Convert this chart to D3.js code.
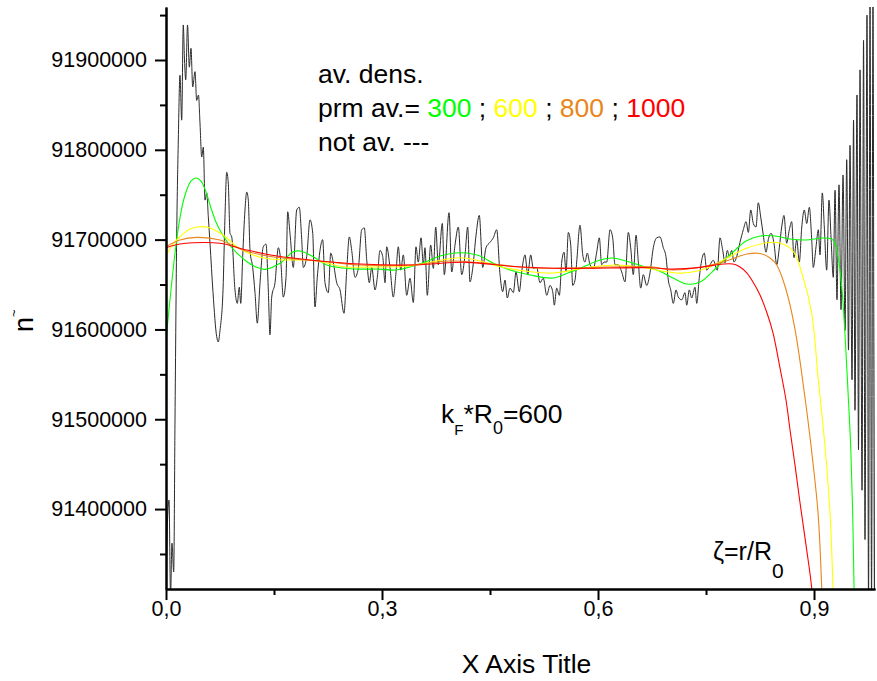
<!DOCTYPE html>
<html>
<head>
<meta charset="utf-8">
<script src="https://cdn.jsdelivr.net/npm/d3@7"></script>
<style>
body{margin:0;background:#fff;}
svg text{font-family:"Liberation Sans",Arial,sans-serif;fill:#000;}
.axis path,.axis line{stroke:#000;stroke-width:2;}
</style>
</head>
<body>
<div class="content"></div>
<script>
// ζ = r/R0 , ñ values
var notAveraged=[
[0,91299000],[0.0021,91388000],[0.0042,91410000],[0.0063,91304000],[0.0083,91362000],[0.0107,91330000],[0.0125,91499000],[0.0149,91707000],[0.0171,91811000],[0.0194,91883000],
[0.0218,91833000],[0.024,91939000],[0.0257,91900000],[0.0274,91878000],[0.0299,91939000],[0.0324,91892000],[0.0347,91913000],[0.0371,91870000],[0.0403,91887000],[0.0426,91855000],
[0.0451,91861000],[0.0472,91830000],[0.0496,91792000],[0.0518,91803000],[0.0542,91744000],[0.0565,91752000],[0.0588,91725000],[0.0611,91696000],[0.0653,91641000],[0.0704,91592000],
[0.0726,91586000],[0.075,91599000],[0.0792,91644000],[0.0819,91725000],[0.0843,91775000],[0.0865,91763000],[0.0889,91707000],[0.0913,91703000],[0.0958,91644000],[0.099,91629000],
[0.1018,91647000],[0.1038,91629000],[0.1065,91681000],[0.1097,91733000],[0.1121,91753000],[0.1143,91744000],[0.1167,91688000],[0.1204,91669000],[0.1236,91641000],[0.1268,91607000],
[0.1306,91652000],[0.1351,91692000],[0.1389,91695000],[0.1421,91644000],[0.1444,91594000],[0.1468,91636000],[0.1514,91652000],[0.156,91691000],[0.1593,91677000],[0.1629,91636000],
[0.1667,91658000],[0.169,91731000],[0.1722,91707000],[0.1768,91669000],[0.1815,91733000],[0.1851,91736000],[0.1885,91700000],[0.1907,91669000],[0.1954,91681000],[0.2,91722000],
[0.2038,91707000],[0.2069,91625000],[0.2101,91658000],[0.2139,91688000],[0.2176,91700000],[0.2208,91652000],[0.2254,91641000],[0.2288,91685000],[0.2324,91674000],[0.2371,91652000],
[0.2417,91644000],[0.2472,91618000],[0.251,91666000],[0.2546,91703000],[0.2579,91688000],[0.2625,91658000],[0.2671,91668000],[0.2718,91711000],[0.2754,91713000],[0.2788,91677000],
[0.2824,91652000],[0.2857,91669000],[0.2903,91644000],[0.2935,91658000],[0.2972,91688000],[0.301,91681000],[0.3042,91652000],[0.3065,91692000],[0.3111,91669000],[0.3157,91636000],
[0.3194,91663000],[0.3226,91692000],[0.326,91666000],[0.3296,91683000],[0.3343,91638000],[0.3389,91657000],[0.3435,91630000],[0.3472,91692000],[0.3504,91675000],[0.3542,91702000],
[0.3574,91672000],[0.3597,91691000],[0.3629,91638000],[0.3676,91694000],[0.3713,91668000],[0.3746,91714000],[0.3782,91672000],[0.3838,91718000],[0.3865,91661000],[0.3931,91730000],
[0.3968,91664000],[0.4014,91694000],[0.406,91714000],[0.4107,91661000],[0.4153,91683000],[0.419,91714000],[0.4222,91653000],[0.426,91668000],[0.4306,91705000],[0.4351,91727000],
[0.4399,91669000],[0.4444,91691000],[0.45,91697000],[0.4546,91702000],[0.4593,91711000],[0.4639,91661000],[0.4676,91642000],[0.4708,91655000],[0.474,91635000],[0.4778,91646000],
[0.4824,91641000],[0.4861,91664000],[0.4907,91642000],[0.494,91664000],[0.4986,91683000],[0.5024,91661000],[0.5065,91683000],[0.5101,91668000],[0.5149,91669000],[0.5194,91652000],
[0.524,91657000],[0.5288,91638000],[0.5333,91649000],[0.5371,91642000],[0.5393,91627000],[0.5426,91646000],[0.5463,91638000],[0.5496,91675000],[0.5528,91686000],[0.5556,91664000],
[0.5588,91708000],[0.5621,91694000],[0.5649,91649000],[0.5681,91655000],[0.5704,91675000],[0.575,91716000],[0.5788,91683000],[0.5819,91675000],[0.5851,91685000],[0.5889,91672000],
[0.5935,91668000],[0.5982,91686000],[0.6018,91702000],[0.6051,91672000],[0.6083,91675000],[0.6121,91675000],[0.6167,91711000],[0.6204,91702000],[0.6236,91672000],[0.6282,91672000],
[0.6329,91664000],[0.6375,91653000],[0.6421,91708000],[0.6454,91691000],[0.649,91661000],[0.6528,91705000],[0.656,91675000],[0.6593,91646000],[0.6629,91661000],[0.6676,91649000],
[0.6722,91663000],[0.6768,91691000],[0.6815,91702000],[0.6861,91703000],[0.6907,91691000],[0.6944,91681000],[0.6976,91655000],[0.701,91644000],[0.7046,91629000],[0.7083,91644000],
[0.7115,91636000],[0.7163,91633000],[0.7208,91641000],[0.7232,91627000],[0.7268,91644000],[0.7301,91635000],[0.7347,91647000],[0.7371,91629000],[0.7407,91658000],[0.744,91677000],
[0.7476,91685000],[0.751,91666000],[0.7556,91672000],[0.7601,91677000],[0.7657,91666000],[0.7694,91702000],[0.7732,91688000],[0.7764,91674000],[0.7796,91688000],[0.7824,91681000],
[0.7857,91688000],[0.7889,91675000],[0.7926,91681000],[0.7972,91697000],[0.8018,91711000],[0.8056,91720000],[0.8088,91708000],[0.8121,91733000],[0.8157,91718000],[0.8194,91714000],
[0.8226,91741000],[0.826,91725000],[0.8296,91705000],[0.8333,91686000],[0.8365,91700000],[0.8403,91707000],[0.8444,91696000],[0.8482,91672000],[0.8518,91691000],[0.8551,91714000],
[0.8583,91727000],[0.862,91696000],[0.8657,91711000],[0.869,91720000],[0.8722,91680000],[0.876,91700000],[0.8796,91675000],[0.8829,91713000],[0.8865,91733000],[0.8899,91718000],
[0.8935,91736000],[0.8968,91700000],[0.899,91669000],[0.9028,91692000],[0.906,91711000],[0.9083,91683000],[0.9115,91752000],[0.9143,91714000],[0.9176,91666000],[0.9208,91744000],
[0.9236,91703000],[0.9268,91658000],[0.9292,91755000],[0.9319,91633000],[0.9347,91761000],[0.9375,91622000],[0.9403,91772000],[0.9431,91599000],[0.9454,91789000],[0.9479,91577000],
[0.95,91805000],[0.9528,91544000],[0.9549,91833000],[0.9569,91510000],[0.9597,91861000],[0.9618,91466000],[0.9639,91889000],[0.9667,91421000],[0.9688,91922000],[0.9708,91366000],
[0.9736,91950000],[0.9757,91299000],[0.9778,91967000],[0.9799,91299000],[0.9819,91967000],[0.984,91299000],[0.9861,91967000]
];
var avg300=[
[0,91588200],[0.0069,91643900],[0.0139,91694000],[0.0208,91730700],[0.0278,91753000],[0.0347,91765200],[0.0417,91768600],[0.0486,91765200],[0.0556,91753000],[0.0625,91735200],
[0.0694,91719600],[0.0764,91708400],[0.0861,91696200],[0.0972,91686200],[0.1111,91676200],[0.125,91669500],[0.1375,91666900],[0.1583,91673600],[0.1768,91686500],[0.1861,91687300],
[0.2046,91680900],[0.2232,91671700],[0.2458,91668400],[0.2694,91667200],[0.2972,91667200],[0.318,91666100],[0.3389,91669500],[0.3597,91675000],[0.3806,91681700],[0.4014,91685100],
[0.418,91685100],[0.4361,91681700],[0.4569,91672800],[0.4778,91666100],[0.5056,91660600],[0.5375,91657200],[0.5583,91662800],[0.5792,91669500],[0.6028,91677300],[0.6194,91679500],
[0.6389,91676200],[0.6611,91670600],[0.6819,91666100],[0.7042,91657200],[0.7236,91650500],[0.7417,91652800],[0.7583,91663900],[0.7722,91675000],[0.7875,91686200],[0.8056,91698400],
[0.825,91704000],[0.8458,91704000],[0.8667,91700700],[0.8889,91699600],[0.9125,91701800],[0.9264,91699600],[0.9333,91681700],[0.9389,91643900],[0.944,91580400],[0.9476,91524700],
[0.951,91469000],[0.9537,91395500],[0.9556,91312000],[0.9575,91240000]
];
var avg600=[
[0,91681700],[0.0097,91695100],[0.0194,91703200],[0.0333,91711800],[0.0472,91714400],[0.0611,91712900],[0.075,91707300],[0.0861,91700700],[0.0986,91692100],[0.1208,91682800],
[0.1444,91678400],[0.1681,91677300],[0.2,91677300],[0.2236,91673900],[0.2458,91669800],[0.2931,91669500],[0.3389,91670600],[0.3708,91675400],[0.4083,91679800],[0.4403,91675400],
[0.4639,91669800],[0.5097,91663900],[0.5375,91662800],[0.5653,91666100],[0.5931,91669800],[0.6264,91671700],[0.6583,91669500],[0.6958,91664200],[0.7181,91662800],[0.7514,91668400],
[0.7792,91679500],[0.8069,91690600],[0.8347,91696500],[0.8528,91696200],[0.8708,91687300],[0.8847,91658300],[0.8968,91618300],[0.906,91543600],[0.9153,91469400],[0.9222,91395500],
[0.9264,91312000],[0.9285,91240000]
];
var avg800=[
[0,91692100],[0.0194,91699600],[0.0426,91702500],[0.075,91699600],[0.1069,91688400],[0.1403,91681700],[0.1764,91678400],[0.2236,91675400],[0.2694,91671700],[0.3389,91671700],
[0.3944,91676200],[0.4403,91673900],[0.5097,91668400],[0.5792,91668700],[0.6722,91669800],[0.7042,91666100],[0.7514,91670600],[0.7792,91676500],[0.8069,91684000],[0.825,91684500],
[0.8389,91679500],[0.8482,91671700],[0.8569,91655000],[0.8667,91627200],[0.875,91593700],[0.8819,91557000],[0.8903,91506900],[0.8986,91451200],[0.9056,91395500],[0.9107,91312000],
[0.913,91240000]
];
var avg1000=[
[0,91691000],[0.0194,91695100],[0.0375,91696500],[0.075,91695900],[0.1125,91688400],[0.1542,91681700],[0.2,91677300],[0.2694,91672800],[0.3389,91671700],[0.418,91674700],
[0.4875,91669800],[0.5569,91668000],[0.6722,91668700],[0.7042,91667200],[0.7417,91669100],[0.7736,91672800],[0.7875,91672800],[0.7972,91669500],[0.8069,91662800],[0.8153,91652800],
[0.825,91638300],[0.8347,91618300],[0.8431,91596000],[0.8528,91557000],[0.8611,91521400],[0.8667,91488000],[0.8736,91449000],[0.8806,91406700],[0.8889,91359900],[0.8968,91312000],
[0.9,91270000]
];
var yMajor=[91400000,91500000,91600000,91700000,91800000,91900000];
var yMinor=[91350000,91450000,91550000,91650000,91750000,91850000,91950000];
var xMajor=[0,0.3,0.6,0.9];
var xMinor=[0.15,0.45,0.75];
var avgLabels=["300","600","800","1000"];
var avgColors=["#00ff00","#ffff00","#e8861a","#ff0000"];

var margin={left:166,top:7,right:2,bottom:92};
var width=877-margin.left-margin.right;
var height=681-margin.top-margin.bottom;

var svg=d3.select(".content")
		.append("svg")
		.attr("width",877)
		.attr("height",681);
var g=svg.append("g")
		.attr("transform","translate("+margin.left+","+margin.top+")");

var x=d3.scaleLinear().domain([0,0.9847]).range([0,width]);
var y=d3.scaleLinear().domain([91311000,91959000]).range([height,0]);

svg.append("clipPath").attr("id","plotClip")
	.append("rect").attr("x",0).attr("y",0).attr("width",width).attr("height",height);

var plot=g.append("g").attr("clip-path","url(#plotClip)");
var rough=d3.line().x(function(d){return x(d[0]);}).y(function(d){return y(d[1]);}).curve(d3.curveMonotoneX);
var smooth=d3.line().x(function(d){return x(d[0]);}).y(function(d){return y(d[1]);}).curve(d3.curveCatmullRom.alpha(0.5));

plot.append("path").datum(notAveraged)
	.attr("d",rough).attr("fill","none").attr("stroke","#2b2b2b").attr("stroke-width",1);
var series=[avg300,avg600,avg800,avg1000];
for(var i=0;i<series.length;i++){
	plot.append("path").datum(series[i])
		.attr("d",smooth).attr("fill","none").attr("stroke",avgColors[i]).attr("stroke-width",1.1);
}

//axes
var comma=function(d){return d3.format(".1f")(d).replace(".",",");};
g.append("g").attr("class","axis")
	.attr("transform","translate(0,"+height+")")
	.call(d3.axisBottom(x).tickValues(xMinor).tickSize(6).tickFormat("").tickSizeOuter(0));
var xa=g.append("g").attr("class","axis")
	.attr("transform","translate(0,"+height+")")
	.call(d3.axisBottom(x).tickValues(xMajor).tickSize(11).tickPadding(1).tickFormat(comma).tickSizeOuter(0));
g.append("g").attr("class","axis")
	.call(d3.axisLeft(y).tickValues(yMinor).tickSize(6).tickFormat("").tickSizeOuter(0));
var ya=g.append("g").attr("class","axis")
	.call(d3.axisLeft(y).tickValues(yMajor).tickSize(11).tickPadding(8).tickFormat(d3.format("d")).tickSizeOuter(0));
g.selectAll(".axis text").attr("font-size",21.5).attr("font-family","Liberation Sans, Arial, sans-serif");

svg.append("text").attr("x",margin.left+width/2+6).attr("y",673)
	.attr("text-anchor","middle").attr("font-size",26.5).text("X Axis Title");
var yl=svg.append("g").attr("transform","translate(33,332) rotate(-90)");
yl.append("text").attr("font-size",27).text("n");
yl.append("text").attr("x",15).attr("y",-15).attr("font-size",13).text("~");

//notes
var note=svg.append("g").attr("font-size",26.5);
note.append("text").attr("x",318).attr("y",83).text("av. dens.");
var prm=note.append("text").attr("x",318).attr("y",117).attr("xml:space","preserve");
prm.append("tspan").text("prm av.= ");
for(var k=0;k<avgLabels.length;k++){
	prm.append("tspan").style("fill",avgColors[k]).text(avgLabels[k]);
	if(k<avgLabels.length-1) prm.append("tspan").text(" ; ");
}
note.append("text").attr("x",318).attr("y",151).text("not av. ---");

var kf=note.append("text").attr("x",441).attr("y",423);
kf.append("tspan").text("k");
kf.append("tspan").attr("font-size",15).attr("dy",12).text("F");
kf.append("tspan").attr("dy",-12).text("*R");
kf.append("tspan").attr("font-size",18).attr("dy",11).text("0");
kf.append("tspan").attr("dy",-11).text("=600");

var zt=svg.append("text").attr("x",713).attr("y",560).attr("font-size",25);
zt.append("tspan").text("ζ=r/R");
zt.append("tspan").attr("font-size",21).attr("dy",18).text("0");
</script>
</body>
</html>
